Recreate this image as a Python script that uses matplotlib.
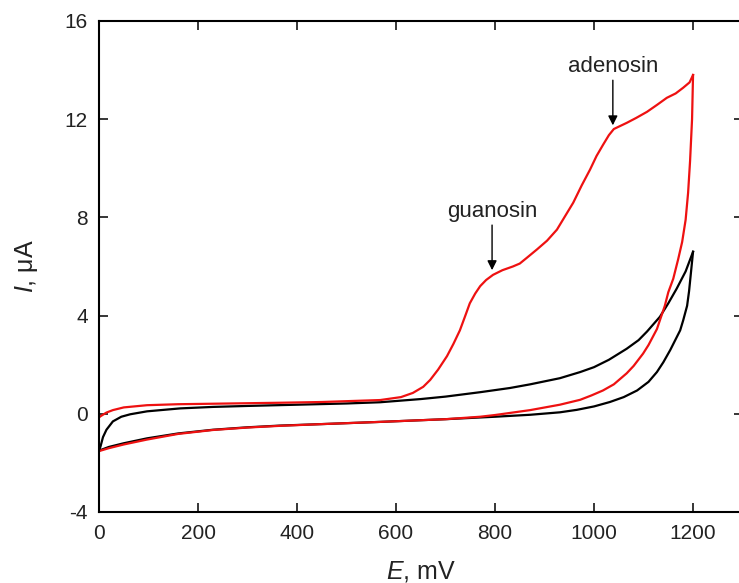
import matplotlib
matplotlib.use("Agg")
import matplotlib.pyplot as plt

plt.rcParams['font.family'] = ['Liberation Sans', 'DejaVu Sans']
plt.rcParams['mathtext.fontset'] = 'custom'
plt.rcParams['mathtext.it'] = 'Liberation Sans:italic'
plt.rcParams['mathtext.rm'] = 'Liberation Sans'
plt.rcParams['axes.unicode_minus'] = False

# Blank electrode: anodic (forward) and cathodic (return) sweeps
blank_fwd_E = [0, 3, 8, 15, 28, 45, 63, 97, 164, 230, 300, 400, 500, 568, 650, 700,
               770, 830, 871, 931, 972, 1000, 1030, 1066, 1090, 1107, 1133, 1150,
               1167, 1185, 1200]
blank_fwd_I = [-1.5, -1.33, -0.95, -0.65, -0.31, -0.12, -0.02, 0.1, 0.22, 0.28, 0.32,
               0.37, 0.42, 0.47, 0.6, 0.7, 0.88, 1.05, 1.2, 1.45, 1.7, 1.9, 2.2, 2.65,
               3.0, 3.35, 3.95, 4.5, 5.1, 5.8, 6.6]
blank_rev_E = [1200, 1196, 1192, 1188, 1180, 1174, 1164, 1154, 1140, 1127, 1110, 1087,
               1060, 1032, 1000, 965, 931, 871, 800, 700, 568, 450, 366, 300, 230, 160,
               97, 50, 20, 0]
blank_rev_I = [6.6, 5.8, 5.0, 4.4, 3.8, 3.4, 3.0, 2.6, 2.1, 1.7, 1.3, 0.95, 0.68, 0.48,
               0.3, 0.16, 0.06, -0.04, -0.12, -0.22, -0.33, -0.42, -0.48, -0.55, -0.65,
               -0.8, -1.0, -1.2, -1.35, -1.5]

# Sample with guanosine and adenosine oxidation waves
sample_fwd_E = [0, 3, 15, 28, 50, 97, 160, 230, 366, 450, 568, 610, 634, 655, 669, 685,
                703, 716, 729, 740, 749, 760, 770, 782, 796, 815, 836, 850, 864, 885,
                905, 925, 940, 958, 975, 992, 1005, 1018, 1030, 1040, 1066, 1085, 1107,
                1127, 1147, 1165, 1180, 1193, 1200]
sample_fwd_I = [-0.15, -0.1, 0.05, 0.15, 0.26, 0.35, 0.39, 0.41, 0.45, 0.48, 0.56, 0.68,
                0.85, 1.1, 1.38, 1.8, 2.35, 2.85, 3.4, 4.0, 4.5, 4.9, 5.2, 5.45, 5.66,
                5.85, 6.0, 6.12, 6.35, 6.7, 7.05, 7.5, 8.0, 8.6, 9.3, 9.95, 10.5, 10.95,
                11.35, 11.6, 11.85, 12.05, 12.3, 12.58, 12.87, 13.05, 13.28, 13.5, 13.8]
sample_rev_E = [1200, 1198, 1194, 1190, 1185, 1178, 1170, 1160, 1150, 1143, 1127, 1110,
                1099, 1080, 1066, 1040, 1018, 995, 972, 931, 871, 800, 770, 700, 568,
                450, 366, 300, 230, 160, 97, 50, 20, 0]
sample_rev_I = [13.8, 12.0, 10.3, 9.0, 7.9, 7.0, 6.3, 5.5, 4.95, 4.4, 3.45, 2.8, 2.45,
                1.95, 1.65, 1.2, 0.95, 0.75, 0.57, 0.37, 0.15, -0.05, -0.12, -0.22,
                -0.33, -0.42, -0.49, -0.56, -0.66, -0.82, -1.05, -1.25, -1.4, -1.52]

# Peak annotations: label, arrow tip (E, I)
peak_labels = ["guanosin", "adenosin"]
peak_E = [794, 1038]
peak_I = [5.8, 11.7]

x_ticks = [0, 200, 400, 600, 800, 1000, 1200]
y_ticks = [-4, 0, 4, 8, 12, 16]

fig = plt.figure(figsize=(7.39, 5.83), dpi=100)
ax = fig.add_axes([0.134, 0.1218, 0.8708, 0.8422])

ax.plot(blank_fwd_E, blank_fwd_I, color='black', lw=1.6)
ax.plot(blank_rev_E, blank_rev_I, color='black', lw=1.6)
ax.plot(sample_fwd_E, sample_fwd_I, color='#ee1111', lw=1.6)
ax.plot(sample_rev_E, sample_rev_I, color='#ee1111', lw=1.6)

for lab, e, i in zip(peak_labels, peak_E, peak_I):
    ax.annotate(lab, xy=(e, i + 0.05), xytext=(e, i + 2.0),
                ha='center', va='bottom', fontsize=16, color='#222222',
                arrowprops=dict(arrowstyle='-|>', color='black', lw=1.0,
                                mutation_scale=14, shrinkA=0, shrinkB=0))

ax.set_xlim(0, 1300)
ax.set_ylim(-4, 16)
ax.set_xticks(x_ticks)
ax.set_yticks(y_ticks)
ax.tick_params(direction='in', length=6.5, width=1.1, labelsize=15,
               labelcolor='#222222', top=True, right=True)
ax.tick_params(axis='x', pad=9)
ax.tick_params(axis='y', pad=8)
for s in ax.spines.values():
    s.set_linewidth(1.5)

ax.set_xlabel(r'$\mathit{E}$, mV', fontsize=18, labelpad=11, color='#222222')
ax.set_ylabel(r'$\mathit{I}$, μA', fontsize=18, labelpad=18, color='#222222')

fig.savefig('out.png', dpi=100)
